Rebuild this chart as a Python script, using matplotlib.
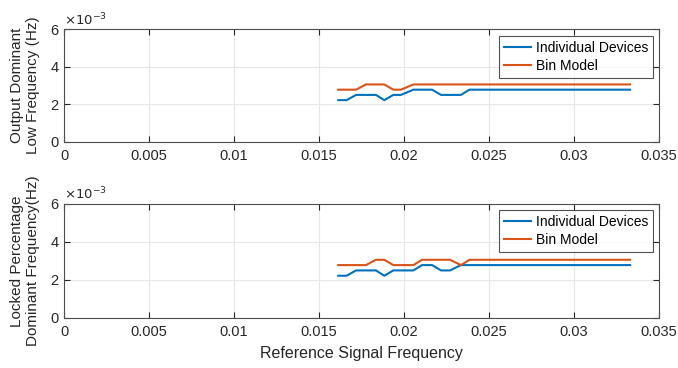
import matplotlib
matplotlib.use("Agg")
import matplotlib.pyplot as plt

plt.rcParams['font.family'] = ['Liberation Sans', 'DejaVu Sans']

# reference signal frequency (x), shared by both panels
ref_freq = [0.01613, 0.01662, 0.01718, 0.01776, 0.01835, 0.01884, 0.01937, 0.01982,
            0.02055, 0.02106, 0.02165, 0.02218, 0.02271, 0.02335, 0.02385, 0.03330]

# top panel: output dominant low frequency (Hz)
top_devices = [2.22e-3, 2.22e-3, 2.50e-3, 2.50e-3, 2.50e-3, 2.22e-3, 2.50e-3, 2.50e-3,
               2.78e-3, 2.78e-3, 2.78e-3, 2.50e-3, 2.50e-3, 2.50e-3, 2.78e-3, 2.78e-3]
top_bin = [2.78e-3, 2.78e-3, 2.78e-3, 3.06e-3, 3.06e-3, 3.06e-3, 2.78e-3, 2.78e-3,
           3.06e-3, 3.06e-3, 3.06e-3, 3.06e-3, 3.06e-3, 3.06e-3, 3.06e-3, 3.06e-3]

# bottom panel: locked percentage dominant frequency (Hz)
bot_devices = [2.22e-3, 2.22e-3, 2.50e-3, 2.50e-3, 2.50e-3, 2.22e-3, 2.50e-3, 2.50e-3,
               2.50e-3, 2.78e-3, 2.78e-3, 2.50e-3, 2.50e-3, 2.78e-3, 2.78e-3, 2.78e-3]
bot_bin = [2.78e-3, 2.78e-3, 2.78e-3, 2.78e-3, 3.06e-3, 3.06e-3, 2.78e-3, 2.78e-3,
           2.78e-3, 3.06e-3, 3.06e-3, 3.06e-3, 3.06e-3, 2.78e-3, 3.06e-3, 3.06e-3]

xticks = [0, 0.005, 0.01, 0.015, 0.02, 0.025, 0.03, 0.035]
xtick_labels = ['0', '0.005', '0.01', '0.015', '0.02', '0.025', '0.03', '0.035']
yticks = [0, 0.002, 0.004, 0.006]
ytick_labels = ['0', '2', '4', '6']

blue = '#0072BD'
orange = '#D95319'
txt = '#262626'

fig = plt.figure(figsize=(6.78, 3.68), dpi=100)
ax1 = fig.add_axes([0.0944, 0.615, 0.8776, 0.305])
ax2 = fig.add_axes([0.0944, 0.136, 0.8776, 0.310])

panels = [
    (ax1, top_devices, top_bin, 'Output Dominant\nLow Frequency (Hz)'),
    (ax2, bot_devices, bot_bin, 'Locked Percentage\nDominant Frequency(Hz)'),
]

for ax, dev, binm, ylab in panels:
    ax.plot(ref_freq, dev, color=blue, lw=1.5, label='Individual Devices')
    ax.plot(ref_freq, binm, color=orange, lw=1.5, label='Bin Model')
    ax.set_xlim(0, 0.035)
    ax.set_ylim(0, 0.006)
    ax.set_xticks(xticks)
    ax.set_xticklabels(xtick_labels)
    ax.set_yticks(yticks)
    ax.set_yticklabels(ytick_labels)
    ax.grid(True, color='#e6e6e6', lw=0.8)
    ax.set_axisbelow(True)
    ax.tick_params(direction='in', length=4, width=0.8, colors=txt, labelsize=10.5,
                   top=True, right=True)
    ax.tick_params(axis='x', pad=5)
    ax.tick_params(axis='y', pad=4)
    for s in ax.spines.values():
        s.set_color('#4d4d4d')
        s.set_linewidth(0.8)
    ax.set_ylabel(ylab, fontsize=11, color=txt, labelpad=7, linespacing=1.25)
    ax.text(0.0, 1.01, r'$\times10^{-3}$', transform=ax.transAxes, fontsize=9.5,
            color=txt, ha='left', va='bottom')
    leg = ax.legend(loc='upper right', fontsize=10, frameon=True, fancybox=False,
                    edgecolor='#262626', handlelength=2.0, handletextpad=0.3,
                    borderpad=0.35, labelspacing=0.3, borderaxespad=0.45)
    leg.get_frame().set_linewidth(0.8)

ax2.set_xlabel('Reference Signal Frequency', fontsize=11.5, color=txt, labelpad=5)

fig.savefig('out.png', dpi=100)
